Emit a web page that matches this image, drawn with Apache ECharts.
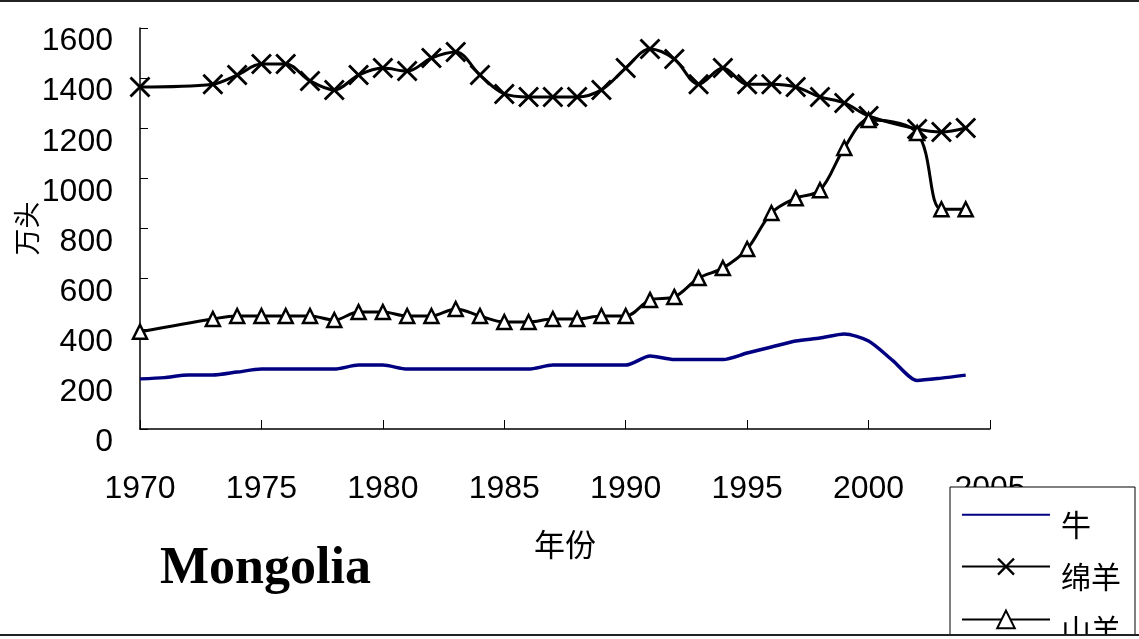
<!DOCTYPE html>
<html>
<head>
<meta charset="utf-8">
<title>Mongolia livestock</title>
<script src="https://cdn.jsdelivr.net/npm/echarts@6/dist/echarts.min.js"></script>
<style>
  html, body { margin: 0; padding: 0; background: #fff; }
  #chart { width: 1139px; height: 639px; }
</style>
</head>
<body>
<div id="chart"></div>
<script>
// Livestock numbers in Mongolia, in units of 10,000 head
const cattleYears = [1970, 1971, 1972, 1973, 1974, 1975, 1976, 1977, 1978, 1979,
  1980, 1981, 1982, 1983, 1984, 1985, 1986, 1987, 1988, 1989,
  1990, 1991, 1992, 1993, 1994, 1995, 1996, 1997, 1998, 1999,
  2000, 2001, 2002, 2003, 2004];
const cattle = [200, 205, 215, 215, 227, 239, 239, 239, 239, 255,
  255, 239, 239, 239, 239, 239, 239, 255, 255, 255,
  255, 291, 277, 277, 277, 303, 327, 351, 363, 379,
  351, 273, 194, 203, 215];

const flockYears = [1970, 1973, 1974, 1975, 1976, 1977, 1978, 1979, 1980, 1981,
  1982, 1983, 1984, 1985, 1986, 1987, 1988, 1989, 1990, 1991,
  1992, 1993, 1994, 1995, 1996, 1997, 1998, 1999, 2000, 2002,
  2003, 2004];
const sheep = [1365, 1376, 1412, 1456, 1456, 1389, 1353, 1412, 1440, 1428,
  1480, 1504, 1412, 1337, 1325, 1325, 1325, 1353, 1440, 1516,
  1476, 1376, 1440, 1376, 1376, 1365, 1325, 1301, 1249, 1197,
  1185, 1201];
const goats = [388, 439, 451, 451, 451, 451, 435, 467, 467, 451,
  451, 479, 451, 427, 427, 439, 439, 451, 451, 515,
  527, 602, 642, 718, 862, 921, 953, 1121, 1233, 1181,
  877, 877];

const seriesNames = ['牛', '绵羊', '山羊'];
const xTicks = { min: 1970, max: 2005, step: 5 };
const yTicks = { min: 0, max: 1600, step: 200 };

const pairs = (xs, ys) => xs.map((x, i) => [x, ys[i]]);

const FONT = "'Liberation Sans', Arial, 'Noto Sans CJK SC', sans-serif";
const CJK = "'Noto Sans CJK SC', 'Liberation Sans', sans-serif";
// multiplication-sign marker
const CROSS = 'path://M1.9,0 L10,8.1 L18.1,0 L20,1.9 L11.9,10 L20,18.1 L18.1,20 L10,11.9 L1.9,20 L0,18.1 L8.1,10 L0,1.9 Z';

const chart = echarts.init(document.getElementById('chart'), null, { renderer: 'canvas' });

chart.setOption({
  animation: false,
  backgroundColor: '#fff',
  grid: { left: 140, right: 149, top: 28, bottom: 210, containLabel: false, outerBoundsMode: 'none' },
  xAxis: {
    type: 'value',
    min: xTicks.min, max: xTicks.max, interval: xTicks.step,
    name: '年份',
    nameLocation: 'middle',
    nameGap: 100,
    nameMoveOverlap: false,
    nameTextStyle: { fontFamily: CJK, fontSize: 31, color: '#000' },
    axisLine: { lineStyle: { color: '#000', width: 1.5 } },
    axisTick: { inside: true, length: 9, lineStyle: { color: '#000', width: 1 } },
    axisLabel: { fontFamily: FONT, fontSize: 32, color: '#000', margin: 44, formatter: v => String(v) },
    splitLine: { show: false }
  },
  yAxis: {
    type: 'value',
    min: yTicks.min, max: yTicks.max, interval: yTicks.step,
    name: '万头',
    nameLocation: 'middle',
    nameGap: 100,
    nameMoveOverlap: false,
    nameRotate: 90,
    nameTextStyle: { fontFamily: CJK, fontSize: 27, color: '#000' },
    axisLine: { show: true, lineStyle: { color: '#000', width: 1.5 } },
    axisTick: { show: true, inside: true, length: 8, lineStyle: { color: '#000', width: 1 } },
    axisLabel: {
      fontFamily: FONT, fontSize: 32, color: '#000', margin: 27,
      verticalAlign: 'top', lineHeight: 27,
      formatter: v => String(v)
    },
    splitLine: { show: false }
  },
  legend: {
    orient: 'vertical',
    left: 950,
    top: 487,
    height: 190,
    itemWidth: 88,
    itemHeight: 22,
    itemGap: 18,
    padding: [19, 14, 20, 11],
    backgroundColor: '#fff',
    borderColor: '#000',
    borderWidth: 1,
    borderRadius: 0,
    data: [
      { name: seriesNames[0], itemStyle: { color: 'rgba(0,0,0,0)', borderWidth: 0 } },
      { name: seriesNames[1] },
      { name: seriesNames[2] }
    ],
    formatter: '{t|{name}}',
    textStyle: {
      color: '#000',
      rich: { t: { fontFamily: CJK, fontSize: 30, color: '#000', padding: [20, 0, 0, 6] } }
    }
  },
  series: [
    {
      name: seriesNames[0],
      type: 'line',
      data: pairs(cattleYears, cattle),
      symbol: 'none',
      smooth: 0.25,
      lineStyle: { color: '#000080', width: 3.5 },
      itemStyle: { color: '#000080' },
      z: 2
    },
    {
      name: seriesNames[1],
      type: 'line',
      data: pairs(flockYears, sheep),
      symbol: CROSS,
      symbolSize: 21,
      smooth: 0.35,
      lineStyle: { color: '#000', width: 3 },
      itemStyle: { color: '#000' },
      z: 3
    },
    {
      name: seriesNames[2],
      type: 'line',
      data: pairs(flockYears, goats),
      symbol: 'triangle',
      symbolSize: 14,
      smooth: 0.35,
      lineStyle: { color: '#000', width: 3 },
      itemStyle: { color: '#fff', borderColor: '#000', borderWidth: 2.5 },
      z: 4
    }
  ],
  graphic: [
    {
      type: 'text',
      left: 160, top: 544,
      style: {
        text: 'Mongolia',
        fontFamily: "'Liberation Serif', 'Times New Roman', serif",
        fontWeight: 'bold',
        fontSize: 52,
        fill: '#000'
      },
      z: 10
    },
    // page frame: top rule and bottom rule
    {
      type: 'rect',
      shape: { x: 0, y: 0, width: 1139, height: 2 },
      style: { fill: '#222' },
      z: 100
    },
    {
      type: 'rect',
      shape: { x: 0, y: 634, width: 1139, height: 5 },
      style: { fill: '#fff' },
      z: 100
    },
    {
      type: 'rect',
      shape: { x: 0, y: 634, width: 1139, height: 2 },
      style: { fill: '#222' },
      z: 101
    }
  ]
});
</script>
</body>
</html>
